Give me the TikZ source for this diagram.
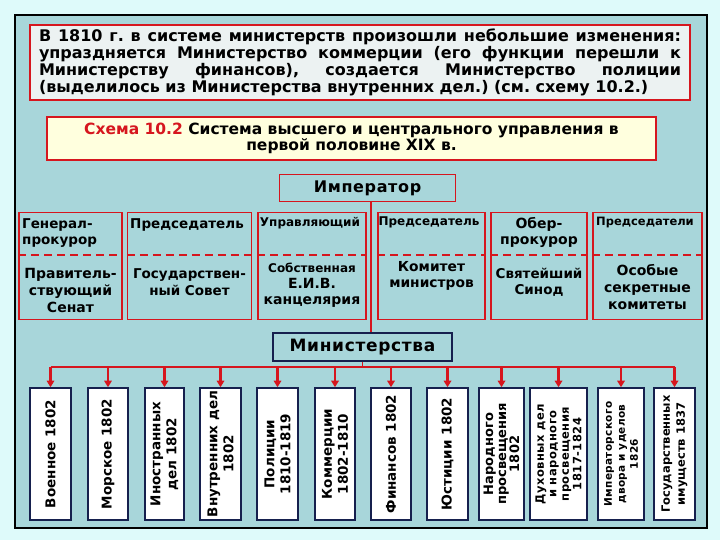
\documentclass[tikz,border=0pt]{standalone}
\usepackage{fontspec}
\setmainfont{DejaVu Sans}
\usetikzlibrary{arrows.meta}
\definecolor{bgout}{RGB}{222,250,250}
\definecolor{panel}{RGB}{168,214,218}
\definecolor{redb}{RGB}{214,22,30}
\definecolor{navy}{RGB}{22,32,78}
\definecolor{note}{RGB}{236,242,242}
\definecolor{yel}{RGB}{255,255,222}
\newcommand{\fs}[2]{\fontsize{#1}{#2}\selectfont}
\frenchspacing
\tikzset{
  ubox/.style={draw=redb, line width=1.3pt, minimum width=#1, minimum height=107pt, inner sep=0pt},
  mbox/.style={draw=navy, fill=white, line width=1.6pt, minimum width=#1, minimum height=132pt, inner sep=0pt},
  mtext/.style={rotate=90, align=center, inner sep=0pt, font=\bfseries\fs{13.5}{16}},
  toptext/.style={inner sep=0pt, align=center, font=\bfseries\fs{13.5}{16}},
  bottext/.style={inner sep=0pt, align=center, font=\bfseries\fs{14}{17}},
  smalltext/.style={inner sep=0pt, align=center, font=\bfseries\fs{12}{14}},
  busline/.style={draw=redb, line width=2.2pt},
  arr/.style={draw=redb, line width=2.2pt, -{Triangle[length=6.5pt,width=7.5pt]}},
  vline/.style={draw=redb, line width=1.4pt},
  dline/.style={draw=redb, line width=1.5pt, dash pattern=on 8pt off 5pt}
}
\begin{document}
\begin{tikzpicture}[x=1pt,y=-1pt]
\useasboundingbox (0,0) rectangle (720,540);
\fill[bgout] (0,0) rectangle (720,540);
\filldraw[fill=panel, draw=black, line width=2.5pt] (15,15) rectangle (707,528);

% note box
\node[draw=redb, fill=note, line width=1.6pt, minimum width=660pt, minimum height=75pt, inner sep=0pt] (notebox) at (360,62.5) {};
\node[text width=642pt, align=justify, inner sep=0pt, font=\bfseries\fs{16}{16.8}] (notetext) at (notebox.center)
 {В 1810 г. в системе министерств произошли небольшие изменения:\linebreak
  упраздняется Министерство коммерции (его функции перешли к\linebreak
  Министерству финансов), создается Министерство полиции\linebreak
  (выделилось из Министерства внутренних дел.) (см. схему 10.2.)};

% title box
\node[draw=redb, fill=yel, line width=1.6pt, minimum width=609pt, minimum height=43pt, inner sep=0pt] (titlebox) at (351.5,138.5) {};
\node[align=center, inner sep=0pt, font=\bfseries\fs{15.5}{16.5}] (titletext) at (titlebox.center)
 {{\color{redb}Схема 10.2} Система высшего и центрального управления в\\первой половине XIX в.};

% emperor
\node[draw=redb, line width=1.6pt, minimum width=176pt, minimum height=27pt, inner sep=0pt,
      font=\bfseries\fs{16}{18}] (emp) at (367.5,188) {\addfontfeature{LetterSpace=4}Император};

% upper boxes
\node[ubox=103pt] (b1) at (70.5,266) {};
\node[ubox=124pt] (b2) at (189.5,266) {};
\node[ubox=108pt] (b3) at (312,266) {};
\node[ubox=107pt] (b4) at (431.5,266) {};
\node[ubox=96pt]  (b5) at (539,266) {};
\node[ubox=109pt] (b6) at (647.5,266) {};
\foreach \b in {b1,b2,b3,b4,b5,b6}{
  \draw[dline] (\b.west |- 0,255) -- (\b.east |- 0,255);
}
\node[toptext, align=left, anchor=north west] (h1) at (22,218) {Генерал-\\прокурор};
\node[toptext, anchor=north west] (h2) at (130,218) {Председатель};
\node[smalltext, anchor=north] (h3) at (310,217) {Управляющий};
\node[smalltext, anchor=north] (h4) at (429,217) {Председатель};
\node[toptext, font=\bfseries\fs{14}{16}, anchor=north] (h5) at (539,217) {Обер-\\прокурор};
\node[smalltext, font=\bfseries\fs{11.5}{14}, anchor=north] (h6) at (645,217) {Председатели};

\node[bottext] (s1) at (70.5,290) {Правитель-\\ствующий\\Сенат};
\node[bottext, font=\bfseries\fs{13.5}{17}] (s2) at (189.5,282) {Государствен-\\ный Совет};
\node[inner sep=0pt, align=center, font=\bfseries\fs{14}{16}] (s3) at (312,285) {{\fs{12}{16}Собственная}\\Е.И.В.\\канцелярия};
\node[bottext, font=\bfseries\fs{13.8}{16}] (s4) at (431.5,276) {Комитет\\министров};
\node[bottext, font=\bfseries\fs{13.5}{16}] (s5) at (539,282) {Святейший\\Синод};
\node[bottext] (s6) at (647.5,287) {Особые\\секретные\\комитеты};

% ministries header
\node[draw=navy, line width=1.6pt, minimum width=179pt, minimum height=28pt, inner sep=0pt,
      font=\bfseries\fs{17}{18}] (min) at (362.5,347) {\addfontfeature{LetterSpace=4}Министерства};
\draw[vline] ([xshift=3.5pt]emp.south) -- ([xshift=3.5pt]emp.south |- min.north);

% ministry boxes
\node[mbox=41pt] (m1) at (50.5,454) {};
\node[mbox=40pt] (m2) at (108,454) {};
\node[mbox=39pt] (m3) at (164.5,454) {};
\node[mbox=41pt] (m4) at (220.5,454) {};
\node[mbox=41pt] (m5) at (277.5,454) {};
\node[mbox=40pt] (m6) at (335,454) {};
\node[mbox=40pt] (m7) at (391,454) {};
\node[mbox=41pt] (m8) at (447.5,454) {};
\node[mbox=45pt] (m9) at (501.5,454) {};
\node[mbox=57pt] (m10) at (558.5,454) {};
\node[mbox=46pt] (m11) at (621,454) {};
\node[mbox=41pt] (m12) at (674.5,454) {};

\node[mtext] (t1) at (m1) {Военное 1802};
\node[mtext] (t2) at (m2) {Морское 1802};
\node[mtext] (t3) at (m3) {Иностранных\\дел 1802};
\node[mtext] (t4) at (m4) {Внутренних дел\\1802};
\node[mtext] (t5) at (m5) {Полиции\\1810-1819};
\node[mtext] (t6) at (m6) {Коммерции\\1802-1810};
\node[mtext] (t7) at (m7) {Финансов 1802};
\node[mtext] (t8) at (m8) {Юстиции 1802};
\node[mtext, font=\bfseries\fs{13}{13}] (t9) at (m9) {Народного\\просвещения\\1802};
\node[mtext, font=\bfseries\fs{11.5}{12.5}\addfontfeature{LetterSpace=4}] (t10) at (m10) {Духовных дел\\и народного\\просвещения\\1817-1824};
\node[mtext, font=\bfseries\fs{10.5}{13}\addfontfeature{LetterSpace=3}] (t11) at (m11) {Императорского\\двора и уделов\\1826};
\node[mtext, font=\bfseries\fs{11.5}{15}] (t12) at (m12) {Государственных\\имуществ 1837};

% bus and arrows
\coordinate (bus) at (0,367);
\draw[vline] (min.south) -- (min.south |- bus);
\draw[busline] (m1.north |- bus) -- (m12.north |- bus);
\foreach \m in {m1,m2,m3,m4,m5,m6,m7,m8,m9,m10,m11,m12}{
  \draw[arr] (\m.north |- bus) -- (\m.north);
}
\end{tikzpicture}
\end{document}
